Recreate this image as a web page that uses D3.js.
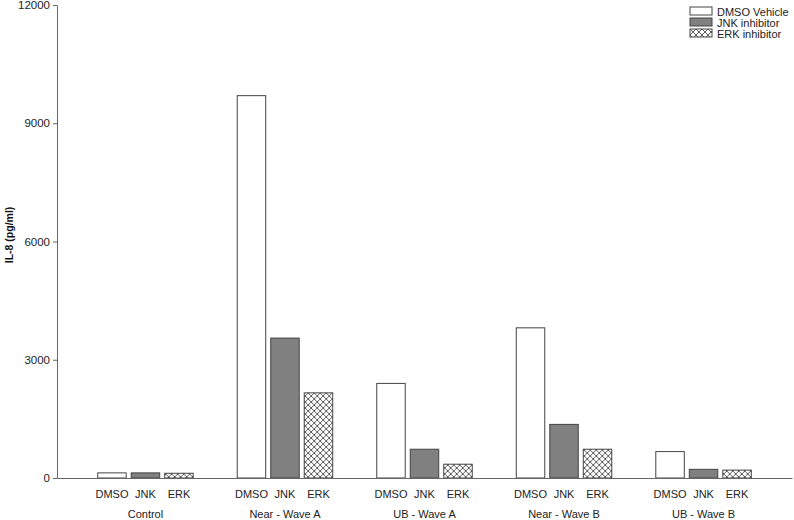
<!DOCTYPE html>
<html>
<head>
<meta charset="utf-8">
<script src="https://cdn.jsdelivr.net/npm/d3@7"></script>
<style>
  body { margin: 0; background: #fff; }
  text { font-family: "Liberation Sans", Arial, sans-serif; }
</style>
</head>
<body>
<script>
// data
var groups = ["Control", "Near - Wave A", "UB - Wave A", "Near - Wave B", "UB - Wave B"];
var series = ["DMSO", "JNK", "ERK"];
var legendNames = ["DMSO Vehicle", "JNK inhibitor", "ERK inhibitor"];
var dmso = [130, 9700, 2400, 3810, 670];
var jnk = [130, 3550, 730, 1360, 220];
var erk = [120, 2160, 350, 730, 200];
var yTicks = [0, 3000, 6000, 9000, 12000];

var width = 794, height = 520;

var svg = d3.select("body").append("svg")
  .attr("width", width)
  .attr("height", height);

// cross hatch for the ERK bars
var pat = svg.append("defs").append("pattern")
  .attr("id", "xhatch")
  .attr("patternUnits", "userSpaceOnUse")
  .attr("width", 6)
  .attr("height", 6);
pat.append("rect").attr("width", 6).attr("height", 6).attr("fill", "#fff");
pat.append("path")
  .attr("d", "M0,0 L6,6 M6,0 L0,6 M-1,5 L1,7 M5,-1 L7,1 M-1,1 L1,-1 M5,7 L7,5")
  .attr("stroke", "#333")
  .attr("stroke-width", 0.8);

var fills = {DMSO: "#fff", JNK: "#808080", ERK: "url(#xhatch)"};

var y = d3.scaleLinear().domain([0, 12000]).range([478, 5]);

var x0 = d3.scaleBand()
  .domain(groups)
  .range([57, 792])
  .paddingInner(0)
  .paddingOuter(0.134);

var x1 = d3.scaleBand()
  .domain(series)
  .range([0, x0.bandwidth()])
  .paddingInner(0.15)
  .paddingOuter(0.657);

var rows = groups.map(function(g, i) {
  return {group: g, values: [
    {key: "DMSO", value: dmso[i]},
    {key: "JNK", value: jnk[i]},
    {key: "ERK", value: erk[i]}
  ]};
});

// bars
svg.append("g").selectAll("g")
  .data(rows)
  .enter().append("g")
  .attr("transform", function(d) { return "translate(" + x0(d.group) + ",0)"; })
  .selectAll("rect")
  .data(function(d) { return d.values; })
  .enter().append("rect")
  .attr("x", function(d) { return x1(d.key); })
  .attr("width", x1.bandwidth())
  .attr("y", function(d) { return y(d.value); })
  .attr("height", function(d) { return y(0) - y(d.value); })
  .attr("fill", function(d) { return fills[d.key]; })
  .attr("stroke", "#444")
  .attr("stroke-width", 1);

// y axis
var yAxis = svg.append("g")
  .attr("transform", "translate(57,0)")
  .call(d3.axisLeft(y).tickValues(yTicks).tickSize(4).tickSizeOuter(0).tickFormat(d3.format("d")));
yAxis.select(".domain").attr("stroke", "#666");
yAxis.selectAll(".tick line").attr("stroke", "#666");
yAxis.selectAll(".tick text")
  .attr("x", -7)
  .attr("fill", "#222")
  .style("font-size", "11.5px")
  .style("font-family", "Liberation Sans, Arial, sans-serif");

// x axis, no ticks
var xAxis = svg.append("g")
  .attr("transform", "translate(0,478)")
  .call(d3.axisBottom(x0).tickSize(0).tickSizeOuter(0).tickFormat(""));
xAxis.select(".domain").attr("stroke", "#666");

// bar labels under each bar
var lab = svg.append("g");
rows.forEach(function(r) {
  series.forEach(function(s) {
    lab.append("text")
      .attr("x", x0(r.group) + x1(s) + x1.bandwidth() / 2)
      .attr("y", 498)
      .attr("text-anchor", "middle")
      .attr("fill", "#222")
      .style("font-size", "11px")
      .text(s);
  });
  lab.append("text")
    .attr("x", x0(r.group) + x0.bandwidth() / 2)
    .attr("y", 518)
    .attr("text-anchor", "middle")
    .attr("fill", "#222")
    .style("font-size", "11px")
    .text(r.group);
});

// y label
svg.append("text")
  .attr("transform", "translate(13,235) rotate(-90)")
  .attr("text-anchor", "middle")
  .attr("fill", "#111")
  .style("font-size", "10.5px")
  .style("font-weight", "bold")
  .text("IL-8 (pg/ml)");

// legend
var leg = svg.append("g").attr("transform", "translate(690,7)");
legendNames.forEach(function(name, i) {
  var row = leg.append("g").attr("transform", "translate(0," + (i * 11) + ")");
  row.append("rect")
    .attr("width", 22)
    .attr("height", 8)
    .attr("fill", fills[series[i]])
    .attr("stroke", "#444");
  row.append("text")
    .attr("x", 27)
    .attr("y", 8.5)
    .attr("fill", "#222")
    .style("font-size", "11px")
    .text(name);
});
</script>
</body>
</html>
